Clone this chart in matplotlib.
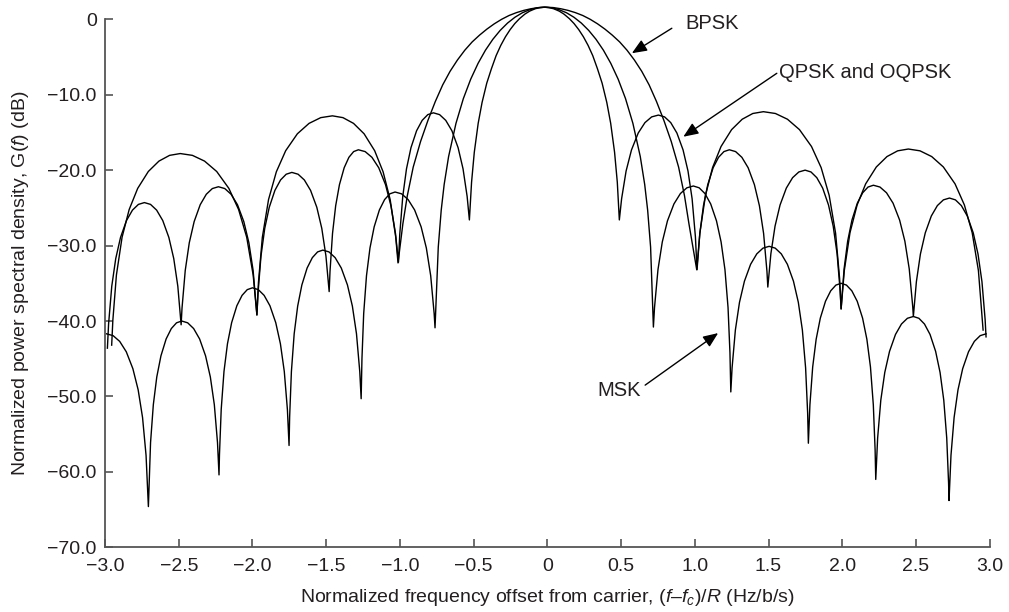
import matplotlib
matplotlib.use('Agg')
import matplotlib.pyplot as plt

plt.rcParams['font.family'] = ['Liberation Sans', 'DejaVu Sans']
plt.rcParams['mathtext.fontset'] = 'custom'
plt.rcParams['mathtext.rm'] = 'Liberation Sans'
plt.rcParams['mathtext.it'] = 'Liberation Sans:italic'

# ---------------- data ----------------
x_ticks = [-3.0, -2.5, -2.0, -1.5, -1.0, -0.5, 0.0, 0.5, 1.0, 1.5, 2.0, 2.5, 3.0]
x_tick_labels = ['\u22123.0', '\u22122.5', '\u22122.0', '\u22121.5', '\u22121.0', '\u22120.5',
                 '0', '0.5', '1.0', '1.5', '2.0', '2.5', '3.0']
y_ticks = [0, -10, -20, -30, -40, -50, -60, -70]
y_tick_labels = ['0', '\u221210.0', '\u221220.0', '\u221230.0', '\u221240.0',
                 '\u221250.0', '\u221260.0', '\u221270.0']

# BPSK spectrum: (normalized frequency, dB)
bpsk = [(-2.955, -43.2), (-2.947, -39.9), (-2.9229, -33.91), (-2.8844, -28.89), (-2.8363, -25.22),
        (-2.7786, -22.42), (-2.7065, -20.18), (-2.6343, -18.8), (-2.5622, -18.04), (-2.49, -17.8),
        (-2.4075, -18.04), (-2.3251, -18.8), (-2.2426, -20.18), (-2.1602, -22.42), (-2.0942, -25.22),
        (-2.0392, -28.89), (-1.9953, -33.91), (-1.97, -39.2),
        (-1.9596, -34.9), (-1.9332, -28.91), (-1.891, -23.89), (-1.8382, -20.22), (-1.7748, -17.42),
        (-1.6956, -15.18), (-1.6164, -13.8), (-1.5372, -13.04), (-1.458, -12.8),
        (-1.3864, -13.04), (-1.3147, -13.8), (-1.2431, -15.18), (-1.1715, -17.42), (-1.1142, -20.22),
        (-1.0664, -23.89), (-1.0282, -28.91), (-1.013, -32.3),
        (-0.98, -27.1), (-0.95, -23.4), (-0.91, -19.6), (-0.86, -16.2), (-0.81, -13.4),
        (-0.76, -10.9), (-0.71, -8.7), (-0.66, -6.9), (-0.61, -5.4), (-0.56, -4.1),
        (-0.51, -3.0), (-0.46, -2.1), (-0.41, -1.3), (-0.36, -0.6), (-0.31, 0.0),
        (-0.26, 0.5), (-0.21, 0.88), (-0.16, 1.18), (-0.11, 1.4), (-0.06, 1.55), (-0.01, 1.6),
        (0.04, 1.55), (0.09, 1.4), (0.14, 1.18), (0.19, 0.88), (0.24, 0.5), (0.29, 0.0),
        (0.34, -0.6), (0.39, -1.3), (0.44, -2.1), (0.49, -3.0), (0.54, -4.1), (0.59, -5.4),
        (0.64, -6.9), (0.69, -8.7), (0.74, -10.9), (0.79, -13.4), (0.84, -16.2), (0.89, -19.6),
        (0.93, -23.4), (0.96, -27.1), (1.013, -33.2),
        (1.0339, -28.36), (1.0722, -23.34), (1.1201, -19.67), (1.1776, -16.87), (1.2494, -14.63),
        (1.3213, -13.25), (1.3931, -12.49), (1.465, -12.25),
        (1.5466, -12.49), (1.6282, -13.25), (1.7098, -14.63), (1.7914, -16.87), (1.8567, -19.67),
        (1.9111, -23.34), (1.9546, -28.36), (1.9818, -34.35), (1.992, -38.4),
        (2.0137, -33.31), (2.0523, -28.29), (2.1006, -24.62), (2.1585, -21.82), (2.2309, -19.58),
        (2.3032, -18.2), (2.3756, -17.44), (2.448, -17.2),
        (2.5272, -17.44), (2.6064, -18.2), (2.6856, -19.58), (2.7648, -21.82), (2.8282, -24.62),
        (2.881, -28.29), (2.9232, -33.31), (2.955, -41.2)]

# QPSK and OQPSK spectrum
qpsk = [(-2.984, -43.6), (-2.976, -40.41), (-2.9544, -35.39), (-2.9274, -31.72), (-2.895, -28.92),
        (-2.8545, -26.68), (-2.814, -25.3), (-2.7735, -24.54), (-2.733, -24.3),
        (-2.6915, -24.54), (-2.6501, -25.3), (-2.6086, -26.68), (-2.5672, -28.92), (-2.534, -31.72),
        (-2.5064, -35.39), (-2.484, -40.5),
        (-2.478, -38.31), (-2.456, -33.29), (-2.4286, -29.62), (-2.3956, -26.82), (-2.3545, -24.58),
        (-2.3133, -23.2), (-2.2722, -22.44), (-2.231, -22.2),
        (-2.188, -22.44), (-2.145, -23.2), (-2.1019, -24.58), (-2.0589, -26.82), (-2.0245, -29.62),
        (-1.9958, -33.29), (-1.97, -39.2),
        (-1.9629, -36.41), (-1.9424, -31.39), (-1.9169, -27.72), (-1.8862, -24.92), (-1.8479, -22.68),
        (-1.8096, -21.3), (-1.7713, -20.54), (-1.733, -20.3),
        (-1.6907, -20.54), (-1.6484, -21.3), (-1.6061, -22.68), (-1.5638, -24.92), (-1.53, -27.72),
        (-1.5018, -31.39), (-1.48, -36.1),
        (-1.4742, -33.41), (-1.4572, -28.39), (-1.4358, -24.72), (-1.4102, -21.92), (-1.3781, -19.68),
        (-1.3461, -18.3), (-1.314, -17.54), (-1.282, -17.3),
        (-1.2359, -17.54), (-1.1899, -18.3), (-1.1438, -19.68), (-1.0978, -21.92), (-1.061, -24.72),
        (-1.0303, -28.39), (-1.01, -32.2),
        (-1.0012, -28.51), (-0.9809, -23.49), (-0.9555, -19.82), (-0.9251, -17.02), (-0.8871, -14.78),
        (-0.8491, -13.4), (-0.811, -12.64), (-0.773, -12.4),
        (-0.7311, -12.64), (-0.6893, -13.4), (-0.6474, -14.78), (-0.6056, -17.02), (-0.5721, -19.82),
        (-0.5442, -23.49), (-0.529, -26.6),
        (-0.5142, -21.6), (-0.4957, -17.63), (-0.4693, -13.79), (-0.4429, -11.02), (-0.4112, -8.47),
        (-0.3794, -6.55), (-0.3477, -4.82), (-0.316, -3.46), (-0.2843, -2.32), (-0.2526, -1.37),
        (-0.2209, -0.57), (-0.1892, 0.08), (-0.1522, 0.69), (-0.1204, 1.08), (-0.0834, 1.39),
        (-0.0517, 1.55), (-0.02, 1.6), (0.0117, 1.55), (0.0434, 1.39), (0.0804, 1.08),
        (0.1122, 0.69), (0.1492, 0.08), (0.1809, -0.57), (0.2126, -1.37), (0.2443, -2.32),
        (0.276, -3.46), (0.3077, -4.82), (0.3394, -6.55), (0.3712, -8.47), (0.4029, -11.02),
        (0.4293, -13.79), (0.4557, -17.63), (0.4742, -21.6), (0.488, -26.6),
        (0.5034, -23.79), (0.5338, -20.12), (0.5704, -17.32), (0.616, -15.08), (0.6617, -13.7),
        (0.7073, -12.94), (0.753, -12.7),
        (0.7948, -12.94), (0.8366, -13.7), (0.8784, -15.08), (0.9202, -17.32), (0.9537, -20.12),
        (0.9815, -23.79), (1.0038, -28.81), (1.015, -33.2),
        (1.034, -28.39), (1.0584, -24.72), (1.0877, -21.92), (1.1242, -19.68), (1.1608, -18.3),
        (1.1974, -17.54), (1.234, -17.3),
        (1.2765, -17.54), (1.319, -18.3), (1.3615, -19.68), (1.404, -21.92), (1.438, -24.72),
        (1.4664, -28.39), (1.4891, -33.41), (1.495, -35.5),
        (1.5157, -31.09), (1.544, -27.42), (1.578, -24.62), (1.6205, -22.38), (1.663, -21.0),
        (1.7055, -20.24), (1.748, -20.0),
        (1.7877, -20.24), (1.8273, -21.0), (1.867, -22.38), (1.9066, -24.62), (1.9384, -27.42),
        (1.9648, -31.09), (1.986, -36.11), (1.992, -38.4),
        (2.0123, -33.09), (2.0365, -29.42), (2.0656, -26.62), (2.102, -24.38), (2.1383, -23.0),
        (2.1747, -22.24), (2.211, -22.0),
        (2.2555, -22.24), (2.3, -23.0), (2.3444, -24.38), (2.3889, -26.62), (2.4245, -29.42),
        (2.4541, -33.09), (2.4779, -38.11), (2.482, -39.4),
        (2.5026, -34.79), (2.5299, -31.12), (2.5628, -28.32), (2.6038, -26.08), (2.6449, -24.7),
        (2.6859, -23.94), (2.727, -23.7),
        (2.7673, -23.94), (2.8076, -24.7), (2.8479, -26.08), (2.8882, -28.32), (2.9205, -31.12),
        (2.9473, -34.79), (2.9688, -39.81), (2.975, -42.1)]

# MSK spectrum
msk = [(-2.99, -41.7), (-2.9453, -41.94), (-2.9006, -42.7), (-2.8559, -44.08), (-2.8112, -46.32),
       (-2.7754, -49.12), (-2.7456, -52.79), (-2.7218, -57.81), (-2.706, -64.6),
       (-2.6913, -56.11), (-2.6725, -51.09), (-2.6491, -47.42), (-2.6209, -44.62), (-2.5857, -42.38),
       (-2.5504, -41.0), (-2.5152, -40.24), (-2.48, -40.0),
       (-2.4395, -40.24), (-2.3991, -41.0), (-2.3586, -42.38), (-2.3182, -44.62), (-2.2858, -47.42),
       (-2.2588, -51.09), (-2.2373, -56.11), (-2.227, -60.4),
       (-2.2239, -57.7), (-2.2121, -51.71), (-2.1933, -46.69), (-2.1697, -43.02), (-2.1414, -40.22),
       (-2.1061, -37.98), (-2.0707, -36.6), (-2.0354, -35.84), (-2.0, -35.6),
       (-1.9605, -35.84), (-1.9211, -36.6), (-1.8816, -37.98), (-1.8422, -40.22), (-1.8106, -43.02),
       (-1.7843, -46.69), (-1.7633, -51.71), (-1.752, -56.5),
       (-1.748, -52.7), (-1.7361, -46.71), (-1.7172, -41.69), (-1.6935, -38.02), (-1.6651, -35.22),
       (-1.6296, -32.98), (-1.594, -31.6), (-1.5585, -30.84), (-1.523, -30.6),
       (-1.4812, -30.84), (-1.4395, -31.6), (-1.3977, -32.98), (-1.356, -35.22), (-1.3226, -38.02),
       (-1.2947, -41.69), (-1.2724, -46.71), (-1.263, -50.3),
       (-1.2576, -45.0), (-1.2458, -39.01), (-1.2268, -33.99), (-1.2032, -30.32), (-1.1748, -27.52),
       (-1.1394, -25.28), (-1.1039, -23.9), (-1.0685, -23.14), (-1.033, -22.9),
       (-0.9888, -23.14), (-0.9446, -23.9), (-0.9004, -25.28), (-0.8562, -27.52), (-0.8209, -30.32),
       (-0.7914, -33.99), (-0.7679, -39.01), (-0.762, -40.9),
       (-0.74, -30.2), (-0.72, -25.3), (-0.70, -21.9), (-0.67, -18.2), (-0.62, -13.8),
       (-0.57, -10.52), (-0.52, -7.94), (-0.47, -5.84), (-0.42, -4.1), (-0.37, -2.66),
       (-0.32, -1.47), (-0.27, -0.5), (-0.22, 0.27), (-0.17, 0.86), (-0.12, 1.27),
       (-0.07, 1.52), (-0.02, 1.6), (0.03, 1.52), (0.08, 1.27), (0.13, 0.86), (0.18, 0.27),
       (0.23, -0.5), (0.28, -1.47), (0.33, -2.66), (0.38, -4.1), (0.43, -5.84), (0.48, -7.94),
       (0.53, -10.52), (0.58, -13.8), (0.63, -18.2), (0.66, -21.9), (0.68, -25.3), (0.70, -30.2),
       (0.719, -40.8),
       (0.7266, -38.21), (0.75, -33.19), (0.7793, -29.52), (0.8144, -26.72), (0.8583, -24.48),
       (0.9022, -23.1), (0.9461, -22.34), (0.99, -22.1),
       (1.0292, -22.34), (1.0684, -23.1), (1.1076, -24.48), (1.1468, -26.72), (1.1781, -29.52),
       (1.2043, -33.19), (1.2252, -38.21), (1.2382, -44.2), (1.244, -49.4),
       (1.2526, -46.21), (1.275, -41.19), (1.3029, -37.52), (1.3364, -34.72), (1.3783, -32.48),
       (1.4202, -31.1), (1.4621, -30.34), (1.504, -30.1),
       (1.5452, -30.34), (1.5864, -31.1), (1.6277, -32.48), (1.6689, -34.72), (1.7019, -37.52),
       (1.7293, -41.19), (1.7513, -46.21), (1.7651, -52.2), (1.770, -56.2),
       (1.7805, -51.11), (1.7993, -46.09), (1.8228, -42.42), (1.851, -39.62), (1.8862, -37.38),
       (1.9215, -36.0), (1.9567, -35.24), (1.992, -35.0),
       (2.0284, -35.24), (2.0648, -36.0), (2.1013, -37.38), (2.1377, -39.62), (2.1668, -42.42),
       (2.1911, -46.09), (2.2105, -51.11), (2.2227, -57.1), (2.227, -61.0),
       (2.2398, -55.51), (2.2613, -50.49), (2.2882, -46.82), (2.3205, -44.02), (2.3609, -41.78),
       (2.4013, -40.4), (2.4416, -39.64), (2.482, -39.4),
       (2.5197, -39.64), (2.5575, -40.4), (2.5952, -41.78), (2.633, -44.02), (2.6632, -46.82),
       (2.6883, -50.49), (2.7084, -55.51), (2.721, -61.5), (2.724, -63.8),
       (2.7372, -57.81), (2.7584, -52.79), (2.7848, -49.12), (2.8165, -46.32), (2.8561, -44.08),
       (2.8957, -42.7), (2.9354, -41.94), (2.975, -41.7)]

series_labels = ['BPSK', 'QPSK and OQPSK', 'MSK']

# ---------------- figure ----------------
fig = plt.figure(figsize=(10.09, 6.12), dpi=100)
ax = fig.add_axes([0.1041, 0.1057, 0.8768, 0.8628])

for pts in (bpsk, qpsk, msk):
    xs = [p[0] for p in pts]
    ys = [p[1] for p in pts]
    ax.plot(xs, ys, color='black', lw=1.0, clip_on=False)

ax.set_xlim(-3.0, 3.0)
ax.set_ylim(-70, 0)
ax.set_xticks(x_ticks)
ax.set_xticklabels(x_tick_labels)
ax.set_yticks(y_ticks)
ax.set_yticklabels(y_tick_labels)

txt_col = '#231f20'
spine_col = '#555555'
for s in ('top', 'right'):
    ax.spines[s].set_visible(False)
for s in ('left', 'bottom'):
    ax.spines[s].set_color(spine_col)
    ax.spines[s].set_linewidth(1.3)
ax.tick_params(direction='in', length=6, width=1.2, color=spine_col,
               labelsize=14, labelcolor=txt_col)
ax.tick_params(axis='y', pad=6)
ax.tick_params(axis='x', pad=8)

ax.set_xlabel('Normalized frequency offset from carrier, ($f$\u2013$f_c$)/$R$ (Hz/b/s)',
              fontsize=14, color=txt_col, labelpad=8)
ax.set_ylabel('Normalized power spectral density, G($f$) (dB)',
              fontsize=14, color=txt_col, labelpad=12)

arrow_kw = dict(arrowstyle='-|>,head_length=0.6,head_width=0.25', color='black',
                lw=1.0, mutation_scale=15, shrinkA=0, shrinkB=0)
# BPSK
ax.annotate('', xy=(0.573, -4.5), xytext=(0.844, -1.19), arrowprops=arrow_kw,
            annotation_clip=False)
ax.text(0.933, -0.62, series_labels[0], fontsize=14.5, ha='left', va='center',
        color=txt_col, clip_on=False)
# QPSK and OQPSK
ax.annotate('', xy=(0.922, -15.57), xytext=(1.556, -7.16), arrowprops=arrow_kw)
ax.text(1.570, -7.05, series_labels[1], fontsize=14.5, ha='left', va='center',
        color=txt_col)
# MSK
ax.annotate('', xy=(1.158, -41.6), xytext=(0.663, -48.5), arrowprops=arrow_kw)
ax.text(0.635, -49.2, series_labels[2], fontsize=14.5, ha='right', va='center',
        color=txt_col)

fig.savefig('out.png', dpi=100)
